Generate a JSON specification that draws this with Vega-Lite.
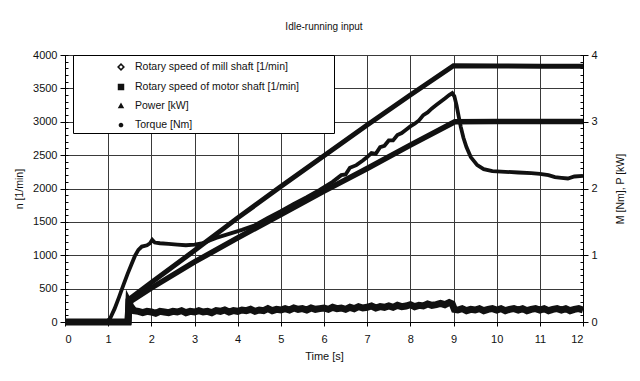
{
  "$schema": "https://vega.github.io/schema/vega-lite/v6.json",
  "width": 518,
  "height": 267,
  "autosize": {"type": "none"},
  "padding": {"left": 65, "top": 55, "right": 57, "bottom": 59},
  "background": "white",
  "title": {"text": "Idle-running input", "fontSize": 10, "font": "Liberation Sans", "fontWeight": "normal", "color": "#111", "offset": 17, "anchor": "middle"},
  "config": {
    "font": "Liberation Sans",
    "view": {"stroke": "#000", "strokeWidth": 1},
    "axis": {"labelFont": "Liberation Sans", "labelFontSize": 11, "labelColor": "#111", "titleFont": "Liberation Sans", "titleFontSize": 10.5, "titleFontWeight": "normal", "titleColor": "#111", "domainColor": "#000", "tickColor": "#000", "labelOverlap": false}
  },
  "datasets": {
    "mill": [{"t":0,"v":0},{"t":1.44,"v":0},{"t":1.46,"v":330},{"t":2,"v":590},{"t":3,"v":1070},{"t":4,"v":1560},{"t":5,"v":2030},{"t":6,"v":2490},{"t":7,"v":2950},{"t":8,"v":3400},{"t":9,"v":3840},{"t":10,"v":3835},{"t":11,"v":3832},{"t":12,"v":3830}],
    "motor": [{"t":0,"v":0},{"t":1.48,"v":0},{"t":1.5,"v":300},{"t":2,"v":510},{"t":3,"v":900},{"t":4,"v":1260},{"t":5,"v":1610},{"t":6,"v":1960},{"t":7,"v":2300},{"t":8,"v":2650},{"t":9.03,"v":3000},{"t":10,"v":3005},{"t":11,"v":3003},{"t":12,"v":3005}],
    "power": [{"t":0,"v":0},{"t":0.97,"v":0},{"t":1.05,"v":0.06},{"t":1.15,"v":0.2},{"t":1.25,"v":0.37},{"t":1.35,"v":0.55},{"t":1.45,"v":0.72},{"t":1.55,"v":0.88},{"t":1.62,"v":0.99},{"t":1.7,"v":1.08},{"t":1.78,"v":1.13},{"t":1.9,"v":1.15},{"t":1.97,"v":1.18},{"t":2.02,"v":1.23},{"t":2.08,"v":1.19},{"t":2.2,"v":1.18},{"t":2.4,"v":1.17},{"t":2.6,"v":1.16},{"t":2.8,"v":1.15},{"t":3.0,"v":1.16},{"t":3.2,"v":1.18},{"t":3.35,"v":1.22},{"t":3.5,"v":1.26},{"t":3.8,"v":1.32},{"t":4.1,"v":1.38},{"t":4.4,"v":1.45},{"t":4.7,"v":1.56},{"t":5.0,"v":1.66},{"t":5.3,"v":1.77},{"t":5.6,"v":1.87},{"t":5.9,"v":1.98},{"t":6.2,"v":2.1},{"t":6.4,"v":2.2},{"t":6.5,"v":2.21},{"t":6.6,"v":2.31},{"t":6.75,"v":2.35},{"t":6.9,"v":2.42},{"t":7.0,"v":2.47},{"t":7.1,"v":2.53},{"t":7.2,"v":2.52},{"t":7.3,"v":2.62},{"t":7.4,"v":2.64},{"t":7.5,"v":2.72},{"t":7.6,"v":2.72},{"t":7.7,"v":2.8},{"t":7.8,"v":2.83},{"t":7.9,"v":2.88},{"t":8.0,"v":2.93},{"t":8.1,"v":2.97},{"t":8.2,"v":3.02},{"t":8.3,"v":3.1},{"t":8.4,"v":3.14},{"t":8.5,"v":3.2},{"t":8.6,"v":3.25},{"t":8.7,"v":3.3},{"t":8.8,"v":3.35},{"t":8.9,"v":3.4},{"t":8.97,"v":3.43},{"t":9.02,"v":3.38},{"t":9.07,"v":3.25},{"t":9.12,"v":3.08},{"t":9.17,"v":2.92},{"t":9.23,"v":2.76},{"t":9.3,"v":2.62},{"t":9.4,"v":2.47},{"t":9.55,"v":2.35},{"t":9.7,"v":2.29},{"t":9.9,"v":2.26},{"t":10.2,"v":2.25},{"t":10.5,"v":2.24},{"t":10.8,"v":2.23},{"t":11.0,"v":2.22},{"t":11.2,"v":2.2},{"t":11.35,"v":2.17},{"t":11.5,"v":2.16},{"t":11.65,"v":2.15},{"t":11.8,"v":2.18},{"t":12,"v":2.19}],
    "torque": [{"t":0,"v":0},{"t":1.46,"v":0},{"t":1.48,"v":0.29},{"t":1.52,"v":0.24},{"t":1.56,"v":0.2},{"t":1.6,"v":0.17},{"t":1.7,"v":0.16},{"t":1.8,"v":0.14},{"t":1.9,"v":0.16},{"t":2.0,"v":0.15},{"t":2.1,"v":0.13},{"t":2.2,"v":0.16},{"t":2.3,"v":0.15},{"t":2.4,"v":0.14},{"t":2.5,"v":0.16},{"t":2.6,"v":0.15},{"t":2.7,"v":0.17},{"t":2.8,"v":0.14},{"t":2.9,"v":0.16},{"t":3.0,"v":0.15},{"t":3.1,"v":0.17},{"t":3.2,"v":0.15},{"t":3.3,"v":0.16},{"t":3.4,"v":0.14},{"t":3.5,"v":0.17},{"t":3.6,"v":0.16},{"t":3.7,"v":0.18},{"t":3.8,"v":0.15},{"t":3.9,"v":0.17},{"t":4.0,"v":0.16},{"t":4.1,"v":0.18},{"t":4.2,"v":0.17},{"t":4.3,"v":0.19},{"t":4.4,"v":0.16},{"t":4.5,"v":0.18},{"t":4.6,"v":0.17},{"t":4.7,"v":0.2},{"t":4.8,"v":0.17},{"t":4.9,"v":0.19},{"t":5.0,"v":0.18},{"t":5.1,"v":0.2},{"t":5.2,"v":0.18},{"t":5.3,"v":0.21},{"t":5.4,"v":0.19},{"t":5.5,"v":0.2},{"t":5.6,"v":0.18},{"t":5.7,"v":0.21},{"t":5.8,"v":0.19},{"t":5.9,"v":0.2},{"t":6.0,"v":0.21},{"t":6.1,"v":0.19},{"t":6.2,"v":0.22},{"t":6.3,"v":0.2},{"t":6.4,"v":0.21},{"t":6.5,"v":0.19},{"t":6.6,"v":0.22},{"t":6.7,"v":0.2},{"t":6.8,"v":0.23},{"t":6.9,"v":0.21},{"t":7.0,"v":0.22},{"t":7.1,"v":0.24},{"t":7.2,"v":0.21},{"t":7.3,"v":0.23},{"t":7.4,"v":0.22},{"t":7.5,"v":0.24},{"t":7.6,"v":0.22},{"t":7.7,"v":0.25},{"t":7.8,"v":0.23},{"t":7.9,"v":0.24},{"t":8.0,"v":0.26},{"t":8.1,"v":0.23},{"t":8.2,"v":0.25},{"t":8.3,"v":0.24},{"t":8.4,"v":0.27},{"t":8.5,"v":0.25},{"t":8.6,"v":0.26},{"t":8.7,"v":0.28},{"t":8.8,"v":0.26},{"t":8.9,"v":0.29},{"t":8.97,"v":0.27},{"t":9.02,"v":0.19},{"t":9.1,"v":0.18},{"t":9.2,"v":0.2},{"t":9.3,"v":0.17},{"t":9.4,"v":0.19},{"t":9.5,"v":0.18},{"t":9.6,"v":0.2},{"t":9.7,"v":0.17},{"t":9.8,"v":0.19},{"t":9.9,"v":0.2},{"t":10.0,"v":0.18},{"t":10.1,"v":0.2},{"t":10.2,"v":0.17},{"t":10.3,"v":0.19},{"t":10.4,"v":0.2},{"t":10.5,"v":0.18},{"t":10.6,"v":0.2},{"t":10.7,"v":0.17},{"t":10.8,"v":0.19},{"t":10.9,"v":0.2},{"t":11.0,"v":0.18},{"t":11.1,"v":0.2},{"t":11.2,"v":0.17},{"t":11.3,"v":0.19},{"t":11.4,"v":0.2},{"t":11.5,"v":0.18},{"t":11.6,"v":0.2},{"t":11.7,"v":0.17},{"t":11.8,"v":0.19},{"t":11.9,"v":0.2},{"t":12.0,"v":0.18}],
    "legend": [{"series":"Rotary speed of mill shaft [1/min]"},{"series":"Rotary speed of motor shaft [1/min]"},{"series":"Power [kW]"},{"series":"Torque [Nm]"}]
  },
  "layer": [
    {
      "data": {"name": "mill"},
      "mark": {"type": "point", "opacity": 0},
      "encoding": {
        "x": {"field": "t", "type": "quantitative", "scale": {"domain": [0, 12], "nice": false, "zero": false},
          "axis": {"title": "Time [s]", "values": [0,0.5,1,1.5,2,2.5,3,3.5,4,4.5,5,5.5,6,6.5,7,7.5,8,8.5,9,9.5,10,10.5,11,11.5,12], "format": "~g", "labelExpr": "datum.value % 1 == 0 ? datum.label : ''", "grid": true, "gridColor": "#3a3a3a", "gridOpacity": 1, "gridWidth": 1, "tickSize": 4, "labelPadding": 7, "titlePadding": 6, "titleFontSize": 11}},
        "y": {"field": "v", "type": "quantitative", "scale": {"domain": [0, 4000], "nice": false},
          "axis": {"title": "n [1/min]", "orient": "left", "offset": 0, "values": [0,500,1000,1500,2000,2500,3000,3500,4000], "format": "d", "grid": true, "gridColor": "#3a3a3a", "gridOpacity": 1, "gridWidth": 1, "tickSize": 5, "labelPadding": 3, "titlePadding": 8}}
      }
    },
    {
      "layer": [
        {
          "data": {"name": "mill"},
          "mark": {"type": "line", "color": "#111", "strokeWidth": 5},
          "encoding": {
            "x": {"field": "t", "type": "quantitative"},
            "y": {"field": "v", "type": "quantitative", "scale": {"domain": [0, 4000], "nice": false}, "axis": null}
          }
        },
        {
          "data": {"name": "motor"},
          "mark": {"type": "line", "color": "#111", "strokeWidth": 5.5},
          "encoding": {
            "x": {"field": "t", "type": "quantitative"},
            "y": {"field": "v", "type": "quantitative"}
          }
        },
        {
          "data": {"name": "legend"},
          "mark": {"type": "point", "opacity": 0, "filled": true, "color": "#111"},
          "encoding": {
            "shape": {"field": "series", "type": "nominal",
              "scale": {"domain": ["Rotary speed of mill shaft [1/min]", "Rotary speed of motor shaft [1/min]", "Power [kW]", "Torque [Nm]"],
                "range": ["M-1.1,0H-0.44M0.44,0H1.1M0,-0.44L0.44,0L0,0.44L-0.44,0ZM0,-0.2L-0.2,0L0,0.2L0.2,0Z", "M-1.1,0H1.1M-0.36,-0.36H0.36V0.36H-0.36Z", "M-1.1,0H1.1M0,-0.38L0.36,0.26H-0.36Z", "M-1.1,0H1.1M0.26,0A0.26,0.26,0,1,1,-0.26,0A0.26,0.26,0,1,1,0.26,0Z"]},
              "legend": {"title": null, "orient": "none", "legendX": 8, "legendY": 0, "strokeColor": "#000", "fillColor": "#fff", "padding": 2, "symbolSize": 324, "symbolFillColor": "#111", "symbolStrokeColor": "#111", "symbolStrokeWidth": 1.2, "symbolOpacity": 1, "symbolOffset": 36, "labelOffset": 4, "rowPadding": 3, "labelFontSize": 10.5, "labelFont": "Liberation Sans", "labelColor": "#111", "labelLimit": 400, "labelExpr": "datum.label + '\u00a0\u00a0\u00a0\u00a0\u00a0\u00a0\u00a0\u00a0\u00a0\u00a0\u00a0\u200b'"}}
          }
        }
      ]
    },
    {
      "layer": [
        {
          "data": {"name": "power"},
          "mark": {"type": "line", "color": "#111", "strokeWidth": 3.8},
          "encoding": {
            "x": {"field": "t", "type": "quantitative"},
            "y": {"field": "v", "type": "quantitative", "scale": {"domain": [0, 4], "nice": false},
              "axis": {"title": "M [Nm], P [kW]", "orient": "right", "offset": 0, "values": [0,0.5,1,1.5,2,2.5,3,3.5,4], "labelExpr": "replace(format(datum.value, '~g'), '.', ',')", "grid": false, "tickSize": 5, "labelPadding": 3, "titlePadding": 18, "titleAngle": 270, "titleBaseline": "top"}}
          }
        },
        {
          "data": {"name": "torque"},
          "mark": {"type": "line", "color": "#111", "strokeWidth": 7},
          "encoding": {
            "x": {"field": "t", "type": "quantitative"},
            "y": {"field": "v", "type": "quantitative"}
          }
        }
      ]
    },
    {
      "data": {"name": "mill"},
      "mark": {"type": "point", "opacity": 0},
      "encoding": {
        "y": {"field": "v", "type": "quantitative", "scale": {"domain": [0, 4000], "nice": false},
          "axis": {"title": null, "orient": "right", "offset": -518, "values": [0,100,200,300,400,500,600,700,800,900,1000,1100,1200,1300,1400,1500,1600,1700,1800,1900,2000,2100,2200,2300,2400,2500,2600,2700,2800,2900,3000,3100,3200,3300,3400,3500,3600,3700,3800,3900,4000], "labels": false, "domain": false, "grid": false, "tickSize": 3}}
      }
    },
    {
      "data": {"name": "power"},
      "mark": {"type": "point", "opacity": 0},
      "encoding": {
        "y": {"field": "v", "type": "quantitative", "scale": {"domain": [0, 4], "nice": false},
          "axis": {"title": null, "orient": "left", "offset": -518, "values": [0,0.1,0.2,0.3,0.4,0.5,0.6,0.7,0.8,0.9,1,1.1,1.2,1.3,1.4,1.5,1.6,1.7,1.8,1.9,2,2.1,2.2,2.3,2.4,2.5,2.6,2.7,2.8,2.9,3,3.1,3.2,3.3,3.4,3.5,3.6,3.7,3.8,3.9,4], "labels": false, "domain": false, "grid": false, "tickSize": 3}}
      }
    }
  ],
  "resolve": {"scale": {"y": "independent"}, "axis": {"y": "independent"}}
}
